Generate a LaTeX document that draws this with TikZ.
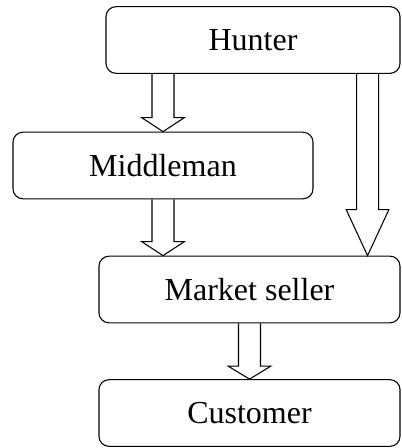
\documentclass[tikz,border=0pt]{standalone}
\usepackage{fontspec}
\setmainfont{Liberation Serif}
\usetikzlibrary{calc}

\tikzset{
  box/.style={rectangle, rounded corners=7.5pt, draw, line width=0.8pt,
    minimum height=50pt, inner sep=0pt, font=\fontsize{24}{28}\selectfont},
  blockarrow/.style={draw, line width=0.8pt, line join=miter}
}

% hollow block arrow pointing down, #1 = head length
\newcommand{\fatarrow}[3][10.5pt]{%
  \draw[blockarrow] let \p1=(#2), \p2=(#3) in
    (\x1-8.25pt,\y1) -- (\x1-8.25pt,\y2+#1) -- (\x1-16pt,\y2+#1) -- (\x1,\y2)
    -- (\x1+16pt,\y2+#1) -- (\x1+8.25pt,\y2+#1) -- (\x1+8.25pt,\y1);}

\begin{document}
\begin{tikzpicture}[x=0.75pt, y=-0.75pt]
    \useasboundingbox (0,0) rectangle (401,448);

    \node (hunter) at (253,40) [box, minimum width=220.5pt] {Hunter};
    \node (middleman) at (163,165.5) [box, minimum width=225pt] {Middleman};
    \node (market) at (249.5,289.5) [box, minimum width=225.75pt] {Market seller};
    \node (customer) at (249.5,413) [box, minimum width=225.75pt] {Customer};

    \coordinate (hr) at ($(hunter.south east)+(-33,0)$);

    \fatarrow{middleman.north |- hunter.south}{middleman.north}
    \fatarrow{middleman.south}{middleman.south |- market.north}
    \fatarrow[34.5pt]{hr}{hr |- market.north}
    \fatarrow[9.75pt]{market.south}{customer.north}

\end{tikzpicture}
\end{document}
